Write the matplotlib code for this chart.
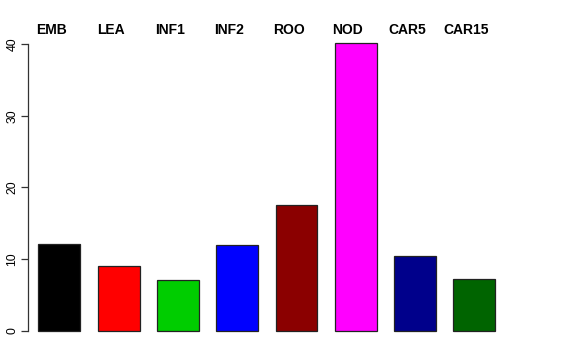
import matplotlib
matplotlib.use("Agg")
import matplotlib.pyplot as plt
import matplotlib.transforms as mtransforms

categories = ["EMB", "LEA", "INF1", "INF2", "ROO", "NOD", "CAR5", "CAR15"]
values = [12.1, 9.05, 7.05, 12.0, 17.5, 40.2, 10.5, 7.25]
colors = ["#000000", "#FF0000", "#00CD00", "#0000FF", "#8B0000", "#FF00FF", "#00008B", "#006400"]
yticks = [0, 10, 20, 30, 40]

plt.rcParams['font.family'] = ['Liberation Sans', 'DejaVu Sans']

W, H = 576, 360
fig = plt.figure(figsize=(W / 100, H / 100), dpi=100)

# axes placement in pixels
left_px, right_px = 28.3, 510.0
top_px, bottom_px = 31.0, 342.5
ax = fig.add_axes([left_px / W, 1 - bottom_px / H, (right_px - left_px) / W, (bottom_px - top_px) / H])

x = list(range(len(categories)))
ax.bar(x, values, width=0.708, color=colors, edgecolor="#222222", linewidth=0.9)

ax.set_ylim(-1.608, 41.808)
ax.set_xlim(-0.523, (right_px - 59.3) / 59.3)

for s in ["top", "right", "bottom"]:
    ax.spines[s].set_visible(False)
ax.spines["left"].set_bounds(0, 40)
ax.spines["left"].set_linewidth(0.9)
ax.spines["left"].set_color("#333333")
ax.set_xticks([])
ax.set_yticks(yticks)
ax.set_yticklabels([str(t) for t in yticks], rotation=90, va="center", fontsize=8.8)
ax.tick_params(axis="y", length=5.0, width=0.9, color="#333333", pad=2.0)

trans = mtransforms.blended_transform_factory(ax.transData, fig.transFigure)
for xi, lab in zip(x, categories):
    ax.text(xi - 0.135, 1 - 29.5 / H, lab, transform=trans, ha="center", va="center",
            fontsize=10, fontweight="bold", clip_on=False)

fig.savefig("out.png", dpi=100)
